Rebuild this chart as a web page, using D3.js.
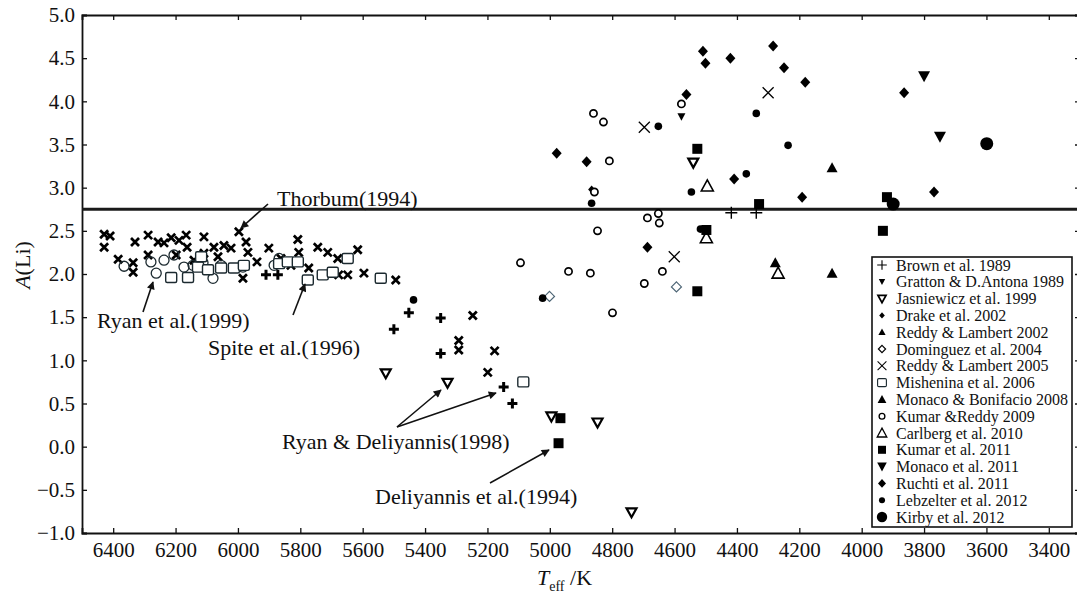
<!DOCTYPE html>
<html>
<head>
<meta charset="utf-8">
<script src="https://cdn.jsdelivr.net/npm/d3@7"></script>
<style>
  body { margin: 0; background: #fff; }
  svg { display: block; }
</style>
</head>
<body>
<div id="chart"></div>
<script>
// All points are [Teff (K), A(Li)]
const thorburn1994 = [[6429,2.46],[6410,2.44],[6429,2.31],[6384,2.17],[6336,2.13],[6336,2.02],[6330,2.37],[6288,2.45],[6288,2.22],[6256,2.37],[6237,2.36],[6214,2.42],[6189,2.39],[6166,2.45],[6198,2.22],[6163,2.31],[6141,2.16],[6109,2.43],[6109,2.24],[6077,2.31],[6064,2.20],[6045,2.33],[6022,2.30],[5997,2.49],[5974,2.37],[5968,2.25],[5984,1.95],[5939,2.14],[5901,2.30],[5862,2.18],[5808,2.40],[5805,2.25],[5830,2.10],[5773,2.07],[5744,2.31],[5712,2.25],[5680,2.18],[5677,1.99],[5648,1.99],[5616,2.28],[5596,2.01],[5494,1.93],[5247,1.52],[5292,1.23],[5292,1.12],[5177,1.11],[5199,0.86]];
const ryan1999 = [[6365,2.09],[6279,2.14],[6262,2.01],[6237,2.16],[6205,2.22],[6173,2.08],[6144,2.10],[6080,1.95],[6054,2.10],[5984,2.08],[5884,2.10],[5868,2.18],[6112,2.13]];
const spite1996 = [[6214,1.96],[6160,1.96],[6128,2.08],[6118,2.20],[6096,2.05],[6054,2.07],[6013,2.07],[5981,2.10],[5868,2.12],[5840,2.14],[5808,2.14],[5776,1.93],[5728,1.99],[5696,2.02],[5648,2.18],[5542,1.95]];
const ryanDeliyannis1998 = [[5910,1.99],[5872,1.99],[5452,1.55],[5350,1.49],[5500,1.36],[5350,1.08],[5148,0.69],[5120,0.50]];

const brown1989 = [[4418,2.71],[4338,2.71]];
const gratton1989 = [[4578,3.82]];
const jasniewicz1999 = [[5526,0.85],[5328,0.74],[4995,0.35],[4847,0.28],[4738,-0.76],[4540,3.29]];
const drake2002 = [[4866,2.98]];
const dominguez2004 = [[5001,1.74],[4594,1.85]];
const reddyLambert2005 = [[4697,3.70],[4300,4.10],[4601,2.20]];
const mishenina2006 = [[5085,0.75]];
const monacoBonifacio2008 = [[4095,3.23],[4277,2.13],[4095,2.01]];
const kumarReddy2009 = [[4860,3.86],[4828,3.76],[4578,3.97],[4809,3.31],[4857,2.95],[4652,2.70],[4687,2.65],[4649,2.59],[4847,2.50],[5094,2.13],[4940,2.03],[4870,2.01],[4639,2.03],[4697,1.89],[4799,1.55]];
const carlberg2010 = [[4495,3.02],[4498,2.42],[4268,2.01]];
const kumar2011 = [[4966,0.33],[4972,0.04],[4527,3.45],[4498,2.51],[4527,1.80],[4329,2.81],[3919,2.89],[3932,2.50]];
const monaco2011 = [[3800,4.29],[3749,3.59]];
const ruchti2011 = [[4509,4.58],[4501,4.44],[4421,4.50],[4284,4.64],[4249,4.39],[4181,4.22],[3864,4.10],[4562,4.08],[4978,3.40],[4882,3.30],[4409,3.10],[4191,2.89],[3768,2.95],[4687,2.31]];
const lebzelter2012 = [[4338,3.86],[4236,3.49],[4370,3.16],[4652,3.71],[4546,2.95],[4866,2.82],[4517,2.52],[5023,1.72],[5437,1.70]];
const kirby2012 = [[3599,3.51],[3899,2.81]];

const thorburnLimit = 2.75;
const xTicks = d3.range(6400, 3399, -200);
const yTicks = d3.range(-1, 5.01, 0.5);

const legendLabels = ["Brown et al. 1989", "Gratton & D.Antona 1989", "Jasniewicz et al. 1999", "Drake et al. 2002",
  "Reddy & Lambert 2002", "Dominguez et al. 2004", "Reddy & Lambert 2005", "Mishenina et al. 2006",
  "Monaco & Bonifacio 2008", "Kumar &Reddy 2009", "Carlberg et al. 2010", "Kumar et al. 2011",
  "Monaco et al. 2011", "Ruchti et al. 2011", "Lebzelter et al. 2012", "Kirby et al. 2012"];
const legendMarkers = ["plus", "triDownSm", "triDownOpen", "diamondSm", "triUpSm", "diamondOpenDark", "x", "squareOpen",
  "triUp", "circleOpen", "triUpOpen", "square", "triDown", "diamond", "circleSm", "circleLg"];

// which marker each series gets
const layers = [
  [thorburn1994, "xBold"], [ryan1999, "circleOpenLg"], [spite1996, "squareOpen"], [ryanDeliyannis1998, "plusBold"],
  [brown1989, "plus"], [gratton1989, "triDownSm"], [jasniewicz1999, "triDownOpen"], [drake2002, "diamondSm"],
  [dominguez2004, "diamondOpen"], [reddyLambert2005, "x"], [mishenina2006, "squareOpen"],
  [monacoBonifacio2008, "triUp"], [kumarReddy2009, "circleOpen"], [carlberg2010, "triUpOpen"],
  [lebzelter2012, "circleSm"], [ruchti2011, "diamond"], [kumar2011, "square"], [monaco2011, "triDown"], [kirby2012, "circleLg"]
];

const serif = "'Liberation Serif', 'Times New Roman', Times, serif";
const width = 1077, height = 596;
const svg = d3.select("#chart").append("svg")
  .attr("width", width).attr("height", height)
  .attr("font-family", serif).style("font-family", serif);

const x = d3.scaleLinear().domain([6500, 3300]).range([82, 1080]);
const y = d3.scaleLinear().domain([-1, 5]).range([533, 15]);

// axes, ticks pointing inward
const fmt = d3.format(".1f");
const styleAxis = g => g.attr("font-family", serif)
  .call(g => g.selectAll("text").style("font-family", serif).style("font-size", "21px").attr("fill", "#111"));
svg.append("g").attr("transform", `translate(0,${y(-1)})`)
  .call(d3.axisBottom(x).tickValues(xTicks).tickSize(-5).tickPadding(9).tickFormat(d3.format("d")))
  .call(styleAxis);
svg.append("g").attr("transform", `translate(${x(6500)},0)`)
  .call(d3.axisLeft(y).tickValues(yTicks).tickSize(-5).tickPadding(7).tickFormat(fmt))
  .call(styleAxis);
svg.append("g").attr("transform", `translate(0,${y(5)})`)
  .call(d3.axisTop(x).tickValues(xTicks).tickSize(-5).tickFormat(""));
svg.append("g").attr("transform", `translate(${x(3300)},0)`)
  .call(d3.axisRight(y).tickValues(yTicks).tickSize(-5).tickFormat(""));
svg.selectAll(".domain").attr("stroke", "#111").attr("stroke-width", 1.8);
svg.selectAll(".tick line").attr("stroke", "#111").attr("stroke-width", 1.3);

// Thorburn plateau line
svg.append("line")
  .attr("x1", x(6500)).attr("x2", x(3300))
  .attr("y1", y(thorburnLimit)).attr("y2", y(thorburnLimit))
  .attr("stroke", "#1a1a1a").attr("stroke-width", 3.2);

function drawMarker(g, type) {
  const black = "#000";
  const path = (d, fill, stroke, sw) => g.append("path").attr("d", d)
    .attr("fill", fill).attr("stroke", stroke || "none").attr("stroke-width", sw || 0);
  switch (type) {
    case "plusBold": path("M-5,0H5M0,-5V5", "none", black, 3); break;
    case "plus": path("M-6,0H6M0,-6V6", "none", black, 1.4); break;
    case "xBold": path("M-4,-4L4,4M-4,4L4,-4", "none", black, 2.7); break;
    case "x": path("M-5.5,-5.5L5.5,5.5M-5.5,5.5L5.5,-5.5", "none", black, 1.3); break;
    case "circleOpen": g.append("circle").attr("r", 3.6).attr("fill", "#fff").attr("stroke", black).attr("stroke-width", 1.7); break;
    case "circleOpenLg": g.append("circle").attr("r", 5).attr("fill", "none").attr("stroke", "#1c2a30").attr("stroke-width", 1.3); break;
    case "circleSm": g.append("circle").attr("r", 3.8).attr("fill", black); break;
    case "circleLg": g.append("circle").attr("r", 6.5).attr("fill", black); break;
    case "square": path("M-5,-5H5V5H-5Z", black); break;
    case "squareOpen": g.append("rect").attr("x", -5.5).attr("y", -5).attr("width", 11).attr("height", 10).attr("rx", 1.5)
      .attr("fill", "#fff").attr("stroke", "#1c2a30").attr("stroke-width", 1.4); break;
    case "diamond": path("M0,-5.5L5,0L0,5.5L-5,0Z", black); break;
    case "diamondSm": path("M0,-4L3.5,0L0,4L-3.5,0Z", black); break;
    case "diamondOpen": path("M0,-5L5,0L0,5L-5,0Z", "#fff", "#4d6575", 1.2); break;
    case "diamondOpenDark": path("M0,-4.5L4.5,0L0,4.5L-4.5,0Z", "#fff", black, 1.5); break;
    case "triDown": path("M-6,-5L6,-5L0,6Z", black); break;
    case "triDownSm": path("M-4,-3.5L4,-3.5L0,4Z", black); break;
    case "triDownOpen": path("M-5,-4L5,-4L0,5Z", "#fff", black, 2.2); break;
    case "triUp": path("M-5.5,4.5L5.5,4.5L0,-5.5Z", black); break;
    case "triUpSm": path("M-4.5,3.5L4.5,3.5L0,-4.5Z", black); break;
    case "triUpOpen": path("M-6,5L6,5L0,-6Z", "#fff", black, 1.6); break;
  }
}

const marks = svg.append("g");
layers.forEach(([data, type]) => {
  marks.selectAll(null).data(data).enter().append("g")
    .attr("transform", d => `translate(${x(d[0])},${y(d[1])})`)
    .each(function () { drawMarker(d3.select(this), type); });
});

// annotations
const defs = svg.append("defs");
defs.append("marker").attr("id", "arrow").attr("viewBox", "0 0 10 10")
  .attr("refX", 9).attr("refY", 5).attr("markerWidth", 10).attr("markerHeight", 8)
  .attr("markerUnits", "userSpaceOnUse").attr("orient", "auto")
  .append("path").attr("d", "M0,0L10,5L0,10Z").attr("fill", "#111");

const notes = [
  { text: "Thorbum(1994)", tx: 277, ty: 206, arrows: [[268, 204, 241, 228]] },
  { text: "Ryan et al.(1999)", tx: 97, ty: 328, arrows: [[143, 312, 153, 282]] },
  { text: "Spite et al.(1996)", tx: 208, ty: 355, arrows: [[293, 315, 305, 284]] },
  { text: "Ryan & Deliyannis(1998)", tx: 282, ty: 449, arrows: [[397, 427, 441, 390], [397, 427, 496, 393]] },
  { text: "Deliyannis et al.(1994)", tx: 375, ty: 504, arrows: [[490, 483, 549, 450]] }
];
notes.forEach(n => {
  n.arrows.forEach(a => svg.append("line")
    .attr("x1", a[0]).attr("y1", a[1]).attr("x2", a[2]).attr("y2", a[3])
    .attr("stroke", "#111").attr("stroke-width", 1.6).attr("marker-end", "url(#arrow)"));
  svg.append("text").attr("x", n.tx).attr("y", n.ty).attr("fill", "#111").style("font-size", "22px").text(n.text);
});

// axis titles
svg.append("text")
  .attr("transform", "translate(30,265) rotate(-90)")
  .attr("text-anchor", "middle").attr("fill", "#111").style("font-size", "22px")
  .call(t => { t.append("tspan").style("font-style", "italic").text("A"); t.append("tspan").text("(Li)"); });
const xt = svg.append("text").attr("x", 537).attr("y", 585).attr("fill", "#111").style("font-size", "22px");
xt.append("tspan").style("font-style", "italic").text("T");
xt.append("tspan").attr("dy", 6).style("font-size", "14px").text("eff");
xt.append("tspan").attr("dy", -6).text(" /K");

// legend
const lg = svg.append("g");
lg.append("rect").attr("x", 872).attr("y", 257).attr("width", 200).attr("height", 270)
  .attr("fill", "#fff").attr("stroke", "#111").attr("stroke-width", 1.6);
legendLabels.forEach((lab, i) => {
  const row = lg.append("g").attr("transform", `translate(0,${265 + i * 16.8})`);
  const m = row.append("g").attr("transform", "translate(882,0) scale(0.8)");
  drawMarker(m, legendMarkers[i]);
  row.append("text").attr("x", 896).attr("y", 5.5).attr("fill", "#111").style("font-size", "16px").text(lab);
});
</script>
</body>
</html>
